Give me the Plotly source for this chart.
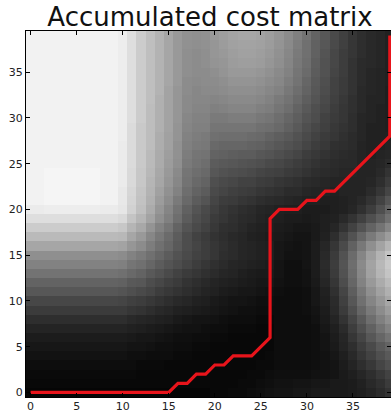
import plotly.graph_objects as go

# Grayscale intensity (0 = black, 100 = white); rows are y = 0..39, columns x = 0..39
row_00 = [2]*10 + [2]*10 + [3, 3, 4, 4, 5, 6, 7] + [8, 8, 9, 9, 10, 10, 10, 10, 11, 12, 14, 17, 20]
row_01 = [3]*10 + [3]*10 + [3, 3, 3, 4, 4, 5, 6] + [7, 7, 8, 8, 9, 9, 10, 10, 11, 13, 16, 19, 23]
row_02 = [4]*10 + [4, 4, 3, 3, 3, 3, 3, 3, 3, 3, 3, 3, 3, 3, 4, 4, 5] + [6, 6, 6, 6, 7, 7, 8, 10, 12, 15, 18, 22, 26]
row_03 = [5]*10 + [5, 5, 4, 4, 4, 3, 3, 3, 3, 3, 3, 3, 3, 3, 3, 4, 4] + [5, 5, 5, 5, 6, 7, 8, 11, 14, 18, 22, 27, 31]
row_04 = [7]*10 + [7, 6, 6, 5, 5, 5, 4, 4, 3, 3, 3, 3, 3, 3, 3, 3, 4] + [5, 5, 5, 5, 6, 7, 9, 12, 16, 21, 26, 31, 35]
row_05 = [9]*10 + [9, 8, 8, 7, 6, 6, 5, 5, 4, 4, 3, 3, 3, 3, 3, 3, 3] + [5, 5, 5, 5, 6, 8, 10, 14, 18, 24, 29, 35, 39]
row_06 = [11]*10 + [11, 10, 9, 9, 8, 7, 6, 6, 5, 5, 4, 4, 3, 3, 3, 3, 3] + [5, 5, 5, 5, 6, 8, 11, 15, 21, 27, 34, 40, 45]
row_07 = [14]*10 + [14, 13, 12, 11, 10, 9, 8, 7, 7, 6, 5, 5, 4, 4, 4, 3, 3] + [5, 5, 5, 5, 6, 9, 12, 17, 24, 31, 38, 45, 51]
row_08 = [18]*10 + [18, 16, 15, 14, 13, 12, 10, 9, 8, 8, 7, 6, 5, 5, 5, 4, 4] + [5, 5, 5, 5, 7, 10, 14, 20, 27, 35, 43, 50, 56]
row_09 = [23]*10 + [23, 21, 20, 18, 16, 15, 13, 12, 11, 10, 9, 8, 7, 6, 6, 5, 5] + [5, 5, 5, 6, 8, 11, 16, 23, 31, 40, 48, 55, 61]
row_10 = [28]*10 + [27, 25, 24, 22, 20, 18, 16, 15, 13, 12, 10, 9, 8, 8, 7, 6, 6] + [5, 5, 5, 6, 9, 12, 17, 25, 34, 44, 52, 59, 65]
row_11 = [34]*10 + [33, 31, 29, 27, 24, 22, 20, 18, 16, 14, 13, 11, 10, 9, 9, 8, 7] + [6, 5, 5, 6, 9, 13, 19, 27, 37, 47, 56, 63, 69]
row_12 = [39]*10 + [38, 35, 34, 30, 28, 25, 23, 20, 18, 16, 14, 13, 12, 11, 10, 9, 9] + [7, 6, 6, 7, 10, 15, 21, 30, 40, 51, 60, 67, 73]
row_13 = [45]*10 + [44, 41, 39, 35, 32, 29, 26, 23, 21, 19, 17, 15, 14, 12, 11, 10, 10] + [8, 6, 6, 7, 11, 16, 23, 32, 42, 53, 63, 71, 77]
row_14 = [51]*10 + [50, 46, 44, 40, 36, 33, 30, 27, 24, 21, 19, 17, 15, 14, 13, 12, 11] + [8, 6, 6, 8, 11, 17, 24, 33, 43, 54, 64, 72, 79]
row_15 = [56]*10 + [55, 51, 48, 44, 40, 36, 32, 29, 26, 24, 21, 18, 17, 15, 14, 13, 12] + [9, 7, 7, 8, 11, 16, 23, 32, 42, 52, 62, 70, 77]
row_16 = [65]*10 + [64, 59, 55, 49, 44, 40, 35, 30, 27, 24, 21, 19, 17, 15, 14, 13, 12] + [9, 8, 7, 8, 11, 15, 21, 29, 38, 47, 56, 64, 71]
row_17 = [73]*10 + [72, 65, 60, 53, 47, 42, 36, 30, 26, 23, 20, 18, 16, 15, 13, 12, 11] + [10, 9, 8, 8, 10, 13, 18, 25, 32, 40, 48, 55, 61]
row_18 = [80]*10 + [78, 71, 66, 58, 51, 46, 39, 33, 29, 26, 22, 19, 18, 16, 14, 13, 12] + [11, 10, 9, 9, 10, 12, 15, 20, 26, 32, 39, 45, 52]
row_19 = [87]*10 + [85, 77, 71, 64, 56, 50, 43, 36, 31, 28, 23, 21, 19, 17, 16, 14, 13] + [12, 11, 11, 10, 11, 12, 13, 16, 20, 25, 31, 37, 44]
row_20 = [92, 92, 93, 93, 93, 93, 93, 93, 92, 92] + [90, 82, 75, 67, 59, 52, 45, 38, 33, 29, 25, 22, 20, 18, 17, 15, 14, 13, 12, 12, 11, 11, 11, 12, 13, 15] + [19, 24, 31, 39]
row_21 = [95, 95, 96, 96, 96, 96, 96, 96, 95, 95] + [91, 83, 76, 69, 61, 55, 48, 41, 36, 33, 27, 24, 23, 21, 20, 18, 17, 16, 15, 14, 13, 13, 12, 12, 13, 14] + [16, 20, 26, 33]
row_22 = [95, 95, 96, 96, 96, 96, 96, 96, 95, 95] + [91, 84, 77, 70, 63, 57, 51, 43, 39, 36, 29, 27, 25, 24, 23, 21, 20, 19, 17, 17, 15, 14, 14, 13, 14, 14] + [14, 17, 21, 27]
row_23 = [95, 95, 96, 96, 96, 96, 96, 96, 95, 95] + [92, 85, 78, 71, 65, 59, 53, 45, 41, 39, 31, 29, 28, 26, 26, 24, 23, 21, 20, 19, 17, 16, 15, 14, 14, 14] + [14, 15, 18, 23]
row_24 = [95, 95, 96, 96, 96, 96, 96, 96, 95, 95] + [92, 85, 78, 72, 66, 60, 54, 46, 43, 41, 34, 32, 31, 30, 29, 27, 26, 25, 23, 22, 20, 18, 17, 16, 15, 15] + [14, 14, 16, 20]
row_25 = [95]*10 + [92, 86, 79, 73, 67, 61, 56, 48, 45, 43, 36, 35, 34, 33, 32, 31, 29, 28, 26, 24, 22, 20, 18, 17, 16, 16] + [14, 14, 15, 17]
row_26 = [95]*10 + [92, 86, 79, 73, 67, 62, 57, 49, 46, 45, 39, 38, 37, 36, 36, 34, 33, 31, 29, 27, 24, 22, 20, 18, 17, 16] + [14, 13, 14, 15]
row_27 = [95]*10 + [92, 86, 79, 74, 68, 63, 57, 50, 48, 47, 41, 40, 40, 40, 39, 38, 36, 34, 32, 30, 27, 24, 22, 19, 18, 17] + [14, 13, 13, 14]
row_28 = [95]*10 + [93, 86, 79, 74, 68, 63, 58, 51, 49, 48, 44, 43, 43, 43, 42, 41, 39, 37, 35, 32, 29, 26, 23, 21, 19, 17] + [15, 13, 13, 13]
row_29 = [95]*10 + [93, 86, 79, 74, 69, 64, 58, 52, 50, 50, 46, 46, 46, 46, 46, 44, 43, 41, 38, 35, 31, 28, 25, 22, 20, 18] + [15, 13, 13, 12]
row_30 = [95]*10 + [93, 87, 80, 74, 69, 64, 59, 53, 51, 51, 48, 48, 49, 49, 49, 47, 46, 43, 40, 37, 33, 30, 26, 23, 21, 18] + [15, 14, 13, 12]
row_31 = [95]*10 + [93, 87, 80, 74, 69, 64, 59, 54, 52, 52, 50, 51, 52, 52, 52, 50, 49, 46, 43, 39, 35, 31, 28, 24, 21, 19] + [16, 14, 13, 12]
row_32 = [95]*10 + [93, 87, 80, 75, 69, 64, 59, 54, 53, 53, 52, 53, 54, 54, 54, 53, 51, 48, 45, 41, 37, 33, 29, 25, 22, 19] + [16, 14, 14, 12]
row_33 = [95]*10 + [93, 87, 80, 75, 70, 64, 59, 55, 53, 54, 54, 55, 56, 56, 56, 55, 53, 51, 47, 43, 39, 34, 30, 26, 23, 20] + [16, 15, 14, 12]
row_34 = [95]*10 + [93, 87, 80, 75, 70, 65, 60, 55, 54, 55, 55, 56, 58, 58, 58, 57, 55, 53, 49, 45, 40, 35, 31, 26, 23, 20] + [17, 15, 14, 13]
row_35 = [95]*10 + [93, 87, 80, 75, 70, 65, 60, 56, 55, 55, 56, 58, 60, 60, 60, 59, 57, 54, 51, 46, 42, 36, 32, 27, 24, 20] + [17, 15, 14, 13]
row_36 = [95]*10 + [93, 87, 80, 75, 70, 65, 60, 56, 55, 56, 58, 59, 61, 62, 62, 61, 59, 56, 52, 47, 43, 37, 32, 28, 24, 20] + [17, 16, 15, 13]
row_37 = [95]*10 + [93, 87, 80, 75, 70, 65, 60, 56, 55, 56, 59, 60, 62, 63, 63, 62, 60, 57, 53, 48, 44, 38, 33, 28, 24, 21] + [18, 16, 15, 13]
row_38 = [95]*10 + [93, 87, 80, 75, 70, 65, 60, 57, 56, 57, 59, 61, 63, 64, 64, 63, 61, 58, 54, 49, 44, 38, 34, 29, 25, 21] + [18, 16, 15, 13]
row_39 = [95]*10 + [93, 87, 80, 75, 70, 65, 60, 57, 56, 57, 60, 62, 64, 65, 65, 64, 62, 59, 55, 50, 45, 39, 34, 29, 25, 21] + [18, 16, 15, 13]

cost_rows = [row_00, row_01, row_02, row_03, row_04, row_05, row_06, row_07, row_08, row_09,
             row_10, row_11, row_12, row_13, row_14, row_15, row_16, row_17, row_18, row_19,
             row_20, row_21, row_22, row_23, row_24, row_25, row_26, row_27, row_28, row_29,
             row_30, row_31, row_32, row_33, row_34, row_35, row_36, row_37, row_38, row_39]

cells = list(range(40))

# warping path vertices
path_x = [0, 15, 16, 17, 18, 19, 20, 21, 22, 24, 26, 26, 27, 29, 30, 31, 32, 33, 39, 39]
path_y = [0, 0, 1, 1, 2, 2, 3, 3, 4, 4, 6, 19, 20, 20, 21, 21, 22, 22, 28, 39]

tick_vals = [0, 5, 10, 15, 20, 25, 30, 35]
tick_text = ["0", "5", "10", "15", "20", "25", "30", "35"]

fig = go.Figure()
fig.add_trace(go.Heatmap(
    z=cost_rows, x=cells, y=cells,
    colorscale=[[0, "#000000"], [1, "#ffffff"]],
    zmin=0, zmax=100, showscale=False, zsmooth=False, hoverinfo="skip",
))
fig.add_trace(go.Scatter(
    x=path_x, y=path_y, mode="lines",
    line=dict(color="#e8141b", width=3.2), hoverinfo="skip",
))

axis_common = dict(
    showgrid=False, zeroline=False, automargin=False,
    ticks="inside", ticklen=4, tickwidth=1, tickcolor="#000000",
    showline=True, linecolor="#000000", linewidth=1, mirror="ticks",
    tickvals=tick_vals, ticktext=tick_text,
    tickfont=dict(family="DejaVu Sans", size=11, color="#222222"),
)
fig.update_xaxes(range=[-0.5, 39.13], ticklabelstandoff=-1, **axis_common)
fig.update_yaxes(range=[-0.5, 39.5], **axis_common)

fig.update_layout(
    width=391, height=412,
    margin=dict(l=26, r=0, t=31, b=15, autoexpand=False),
    paper_bgcolor="#ffffff", plot_bgcolor="#ffffff",
    showlegend=False,
    title=dict(text="Accumulated cost matrix", x=210 / 391, xanchor="center",
               xref="container",
               y=1 - 26 / 412, yanchor="bottom", yref="container",
               font=dict(family="DejaVu Sans", size=26, color="#111111")),
)

fig.write_html("out.html", config={"displayModeBar": False},
               post_script="document.body.style.margin='0';document.body.style.overflow='hidden';")
